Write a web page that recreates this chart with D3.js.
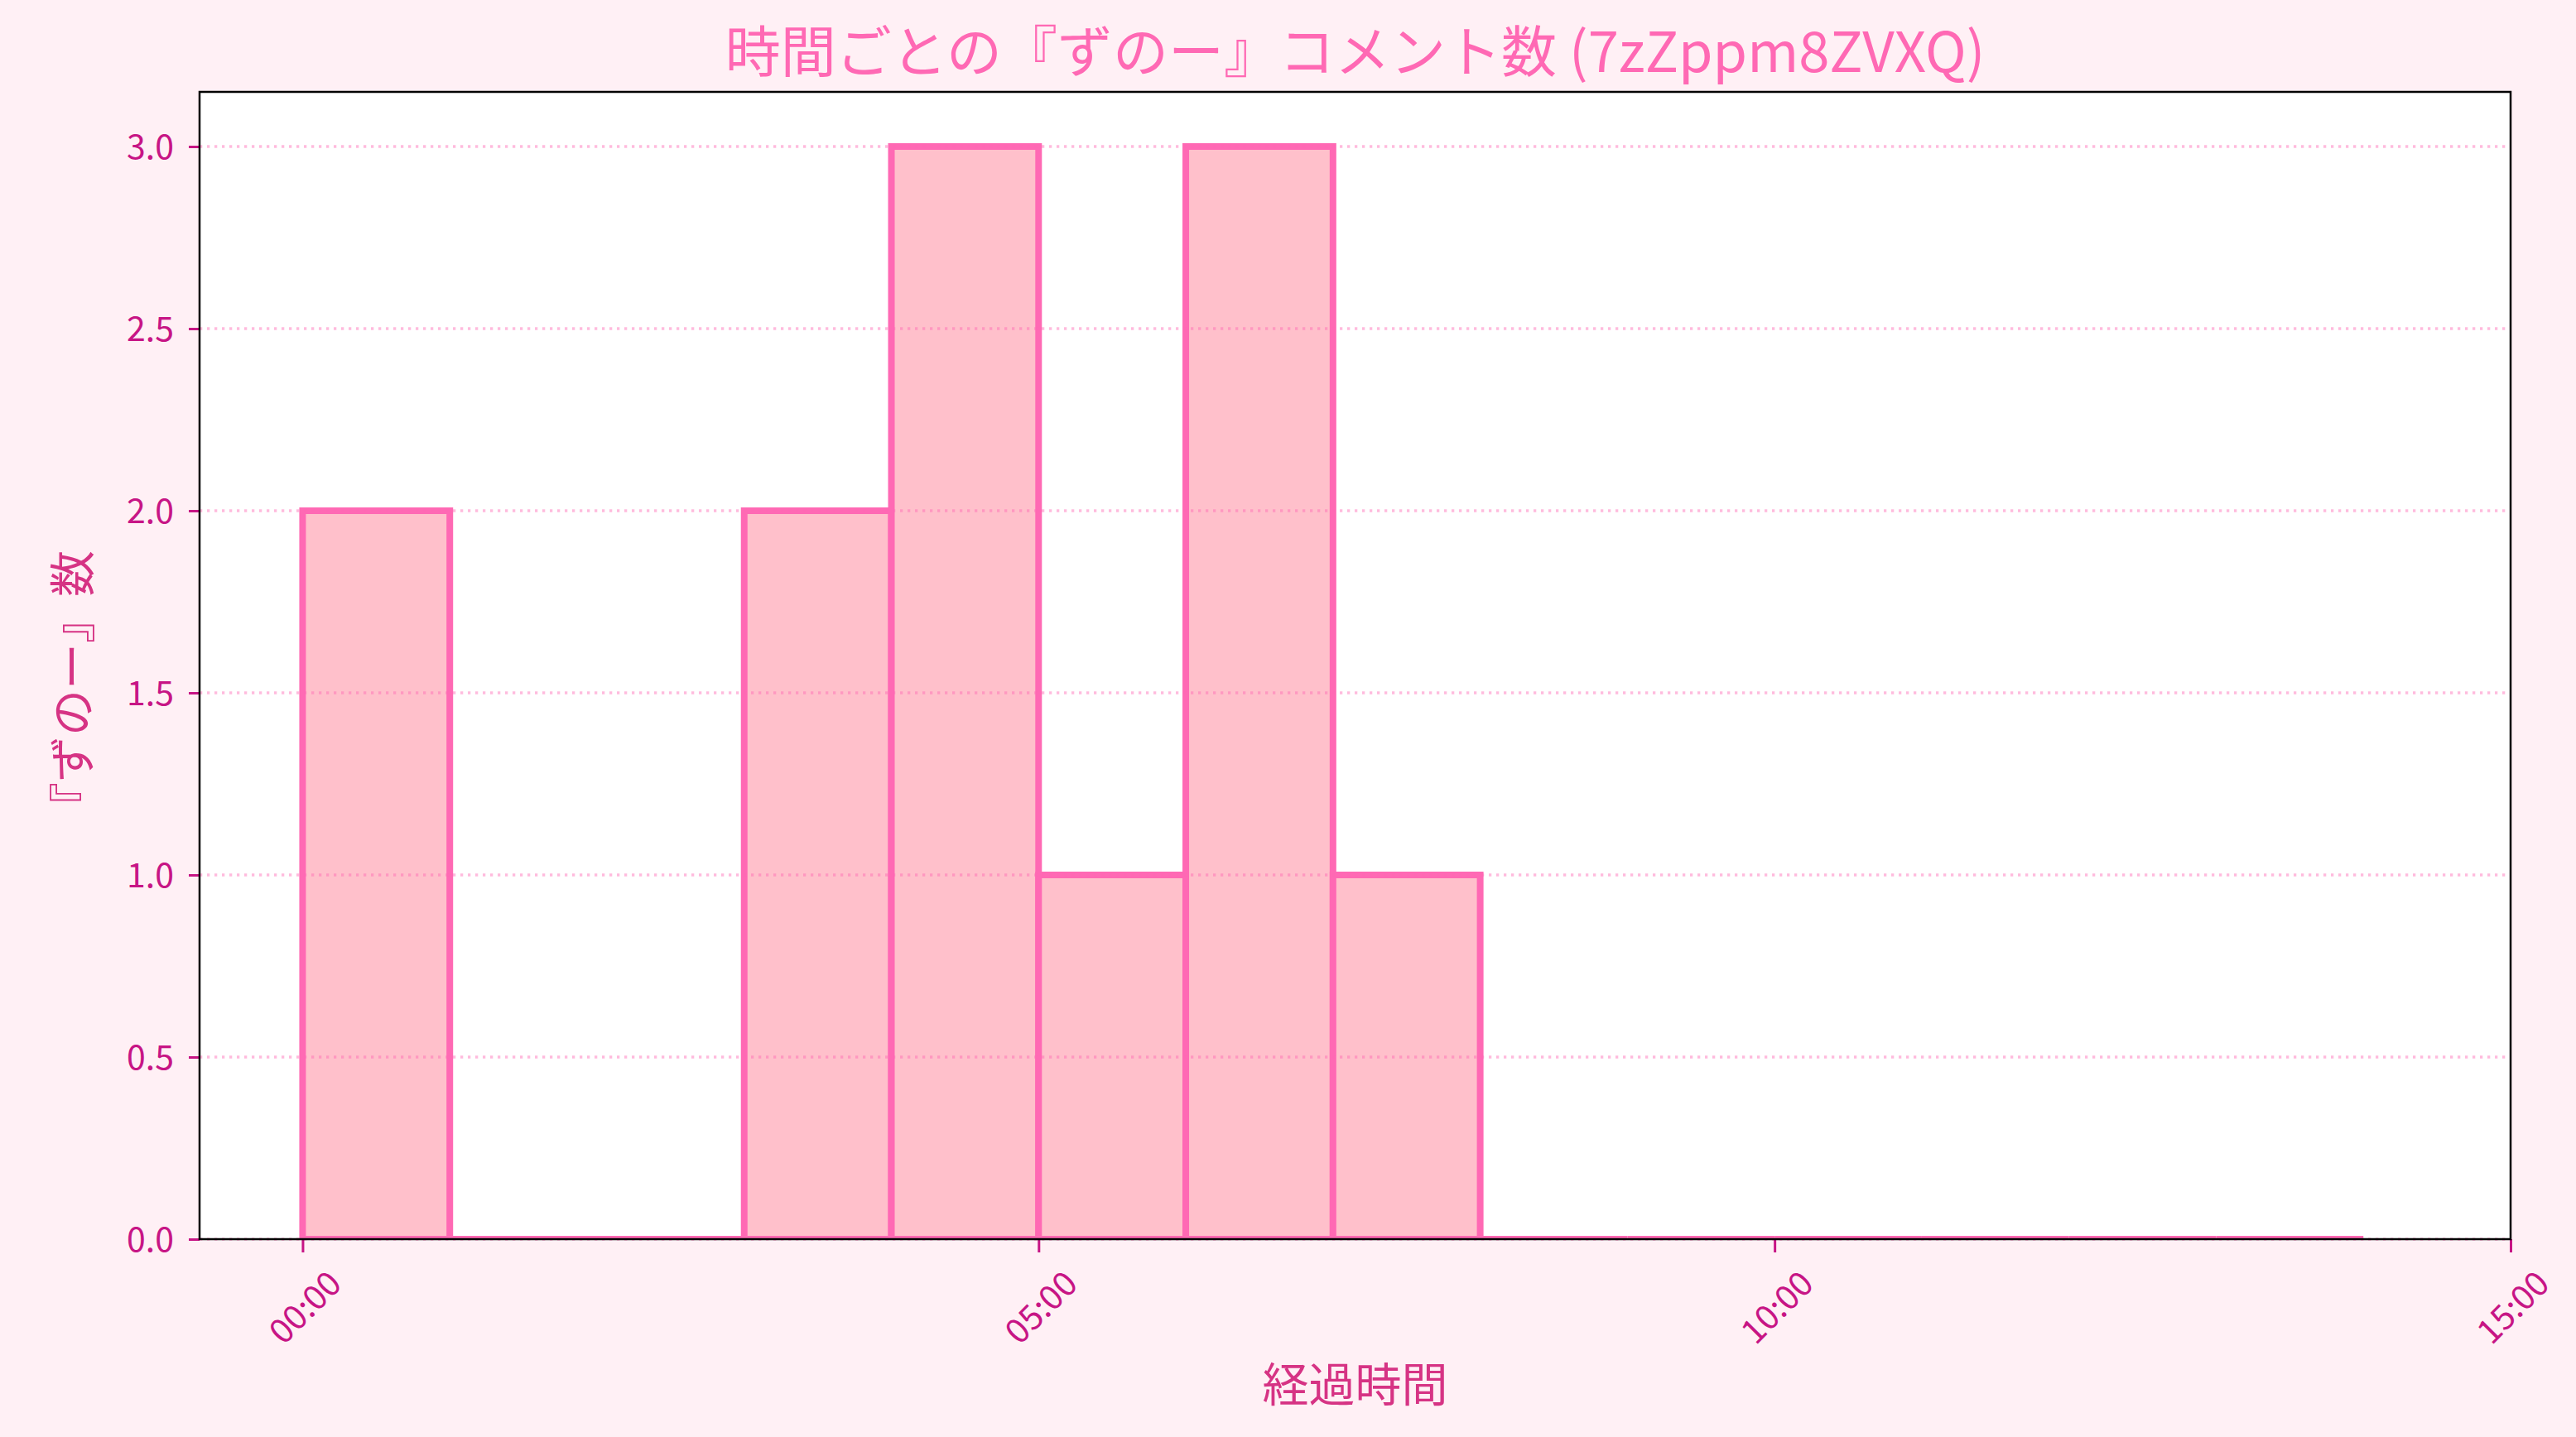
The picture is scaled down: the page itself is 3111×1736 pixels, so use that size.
<!DOCTYPE html>
<html>
<head>
<meta charset="utf-8">
<script src="https://cdn.jsdelivr.net/npm/d3@7"></script>
<style>
  html, body { margin: 0; padding: 0; background: #fff0f5; }
  svg { display: block; }
  text { font-family: "Noto Sans CJK JP", "Noto Sans", sans-serif; }
</style>
</head>
<body>
<script>
// histogram of comment counts per minute
var binStarts = [0, 1, 2, 3, 4, 5, 6, 7, 8, 9, 10, 11, 12, 13];
var binWidth = 1;
var counts = [2, 0, 0, 2, 3, 1, 3, 1, 0, 0, 0, 0, 0, 0];

var xTicks = [0, 5, 10, 15];
var xTickLabels = ["00:00", "05:00", "10:00", "15:00"];
var yTicks = [0, 0.5, 1, 1.5, 2, 2.5, 3];

var titleText = "時間ごとの『ずのー』コメント数 (7zZppm8ZVXQ)";
var xLabelText = "経過時間";
var yLabelText = "『ずのー』数";

var svgWidth = 3111;
var svgHeight = 1736;
var plot = { left: 241, right: 3032, top: 111, bottom: 1497 };

var svg = d3.select('body').append('svg')
    .attr('width', svgWidth)
    .attr('height', svgHeight);

svg.append('rect')
    .attr('width', svgWidth).attr('height', svgHeight)
    .attr('fill', '#fff0f5');

var x = d3.scaleLinear().domain([-0.7, 15]).range([plot.left, plot.right]);
var y = d3.scaleLinear().domain([0, 3.15]).range([plot.bottom, plot.top]);

// clip marks to the axes area
svg.append('clipPath').attr('id', 'plotclip')
    .append('rect')
    .attr('x', plot.left).attr('y', plot.top)
    .attr('width', plot.right - plot.left)
    .attr('height', plot.bottom - plot.top);

// plot background
svg.append('rect')
    .attr('x', plot.left).attr('y', plot.top)
    .attr('width', plot.right - plot.left)
    .attr('height', plot.bottom - plot.top)
    .attr('fill', '#ffffff');

// bars (paths so zero bins still show their outline)
svg.append('g').attr('clip-path', 'url(#plotclip)')
    .selectAll('path').data(counts).enter().append('path')
    .attr('d', function(d, i) {
        var x0 = x(binStarts[i]), x1 = x(binStarts[i] + binWidth);
        var y0 = y(0), y1 = y(d);
        return 'M' + x0 + ',' + y0 + 'V' + y1 + 'H' + x1 + 'V' + y0 + 'Z';
    })
    .attr('fill', '#ffc0cb')
    .attr('stroke', '#ff69b4')
    .attr('stroke-width', 8)
    .attr('stroke-linejoin', 'miter');

// horizontal dotted grid, drawn over the bars
svg.append('g').selectAll('line').data(yTicks).enter().append('line')
    .attr('x1', plot.left).attr('x2', plot.right)
    .attr('y1', function(d) { return y(d); })
    .attr('y2', function(d) { return y(d); })
    .attr('stroke', '#ff69b4')
    .attr('stroke-opacity', 0.45)
    .attr('stroke-width', 3.3)
    .attr('stroke-dasharray', '3.3 5.7');

// y axis
var yAxis = d3.axisLeft(y).tickValues(yTicks)
    .tickFormat(d3.format('.1f'))
    .tickSize(13).tickPadding(18);
var gy = svg.append('g')
    .attr('transform', 'translate(' + plot.left + ',0)')
    .call(yAxis);
gy.select('.domain').remove();
gy.selectAll('.tick line').attr('stroke', '#c71585').attr('stroke-width', 3);
gy.selectAll('.tick text')
    .attr('fill', '#c71585')
    .attr('font-size', 41)
    .attr('font-family', '"Noto Sans CJK JP", sans-serif')
    .attr('dy', '0.36em');

// x axis
var xAxis = d3.axisBottom(x).tickValues(xTicks)
    .tickFormat(function(d, i) { return xTickLabels[i]; })
    .tickSize(16);
var gx = svg.append('g')
    .attr('transform', 'translate(0,' + plot.bottom + ')')
    .call(xAxis);
gx.select('.domain').remove();
gx.selectAll('.tick line').attr('stroke', '#c71585').attr('stroke-width', 3);
gx.selectAll('.tick text')
    .attr('fill', '#c71585')
    .attr('font-size', 41)
    .attr('font-family', '"Noto Sans CJK JP", sans-serif')
    .attr('y', 0).attr('dy', 0)
    .attr('text-anchor', 'middle')
    .attr('dominant-baseline', 'central')
    .attr('transform', 'translate(0,80) rotate(-45)');

// frame
svg.append('rect')
    .attr('x', plot.left).attr('y', plot.top)
    .attr('width', plot.right - plot.left)
    .attr('height', plot.bottom - plot.top)
    .attr('fill', 'none')
    .attr('stroke', '#000000')
    .attr('stroke-width', 2.5);

// title and labels
svg.append('text')
    .attr('x', (plot.left + plot.right) / 2).attr('y', 87)
    .attr('text-anchor', 'middle')
    .attr('font-size', 67)
    .attr('fill', '#ff69b4')
    .text(titleText);

svg.append('text')
    .attr('x', (plot.left + plot.right) / 2).attr('y', 1693)
    .attr('text-anchor', 'middle')
    .attr('font-size', 56)
    .attr('fill', '#d63384')
    .text(xLabelText);

svg.append('text')
    .attr('transform', 'translate(108,833) rotate(-90)')
    .attr('text-anchor', 'middle')
    .attr('font-size', 56)
    .attr('fill', '#d63384')
    .text(yLabelText);
</script>
</body>
</html>
